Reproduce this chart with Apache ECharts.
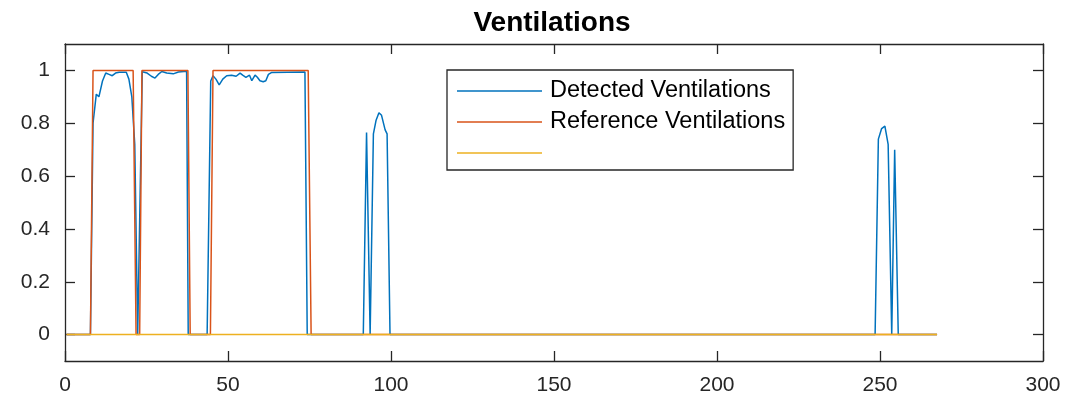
<!DOCTYPE html>
<html>
<head>
<meta charset="utf-8">
<script src="https://cdn.jsdelivr.net/npm/echarts@6/dist/echarts.min.js"></script>
<style>html,body{margin:0;padding:0;background:#fff}#c{width:1079px;height:401px}</style>
</head>
<body>
<div id="c"></div>
<script>
const titleText = 'Ventilations';
const seriesNames = ['Detected Ventilations', 'Reference Ventilations', ' '];
const xTicks = [0, 50, 100, 150, 200, 250, 300];
const yTicks = [0, 0.2, 0.4, 0.6, 0.8, 1];

const detected = [
  [0.5,0],[7.8,0],[8.6,0.80],[9.6,0.91],[10.4,0.90],[11.5,0.96],[12.5,0.99],[13.5,0.985],
  [14.5,0.98],[15.5,0.99],[16.6,0.993],[17.8,0.993],[18.8,0.993],[19.6,0.967],[20.5,0.90],
  [21.4,0.72],[22.3,0],[22.7,0],[23.7,0.995],[25.2,0.99],[26.5,0.978],[27.6,0.971],
  [28.6,0.985],[29.7,0.996],[31.2,0.99],[33.2,0.987],[34.8,0.994],[36.5,0.996],[37.3,0.996],
  [37.8,0],[43.6,0],[44.7,0.96],[45.4,0.98],[46.3,0.967],[47.3,0.945],[48.4,0.967],
  [49.6,0.98],[51.1,0.982],[52.5,0.978],[53.7,0.99],[54.5,0.982],[55.5,0.974],[56.6,0.982],
  [57.3,0.961],[58.3,0.982],[59.0,0.974],[59.8,0.961],[60.8,0.957],[61.6,0.961],[62.4,0.985],
  [63.3,0.992],[73.6,0.994],[74.3,0],[91.5,0],[92.5,0.765],[93.6,0],[94.6,0.76],[95.4,0.81],
  [96.3,0.84],[97.1,0.83],[98.2,0.775],[98.8,0.76],[99.7,0],[248.5,0],[249.5,0.74],
  [250.5,0.78],[251.5,0.789],[252.5,0.72],[253.6,0],[254.5,0.70],[255.6,0],[267.5,0]
];
const reference = [
  [0.5,0],[7.8,0],[8.6,1],[20.9,1],[21.8,0],[22.9,0],[23.6,1],[37.7,1],[38.4,0],
  [44.6,0],[45.4,1],[74.6,1],[75.5,0],[267.5,0]
];
const third = [[0.5,0],[267.5,0]];

const colors = ['#0072BD', '#D95319', '#EDB120'];
const axisColor = '#262626';
const font = 'Liberation Sans, Arial, Helvetica, sans-serif';

const chart = echarts.init(document.getElementById('c'), null, {renderer: 'canvas'});
const baseAxis = {
  axisLine: {show: true, onZero: false, lineStyle: {color: axisColor, width: 1.3}},
  axisTick: {show: true, inside: true, length: 10, lineStyle: {color: axisColor, width: 1.3}},
  splitLine: {show: false}
};
chart.setOption({
  animation: false,
  backgroundColor: '#fff',
  title: {
    text: titleText, left: 547, top: 4, textAlign: 'center',
    textStyle: {fontFamily: font, fontWeight: 'bold', fontSize: 28, color: '#000'}
  },
  legend: {
    orient: 'vertical', left: 447, top: 70,
    data: seriesNames,
    icon: 'rect',
    itemWidth: 85, itemHeight: 1.5, itemGap: 7,
    padding: [9, 8, 5, 10],
    backgroundColor: '#fff', borderColor: axisColor, borderWidth: 1.3,
    textStyle: {fontFamily: font, fontSize: 23.5, color: '#000', lineHeight: 24, padding: [0, 0, 0, 3]},
    selectedMode: false
  },
  grid: {left: 65, right: 36, top: 44, bottom: 40, containLabel: false},
  xAxis: [
    Object.assign({}, baseAxis, {
      type: 'value', min: 0, max: 300, interval: 50, position: 'bottom',
      axisLabel: {fontFamily: font, fontSize: 21, color: axisColor, margin: 14,
        customValues: xTicks},
      axisTick: Object.assign({}, baseAxis.axisTick, {customValues: xTicks})
    }),
    Object.assign({}, baseAxis, {
      type: 'value', min: 0, max: 300, interval: 50, position: 'top',
      axisLabel: {show: false},
      axisTick: Object.assign({}, baseAxis.axisTick, {customValues: xTicks})
    })
  ],
  yAxis: [
    Object.assign({}, baseAxis, {
      type: 'value', min: -0.1, max: 1.1, position: 'left',
      axisLabel: {fontFamily: font, fontSize: 21, color: axisColor, margin: 15,
        customValues: yTicks, formatter: v => String(Math.round(v * 10) / 10)},
      axisTick: Object.assign({}, baseAxis.axisTick, {customValues: yTicks})
    }),
    Object.assign({}, baseAxis, {
      type: 'value', min: -0.1, max: 1.1, position: 'right',
      axisLabel: {show: false},
      axisTick: Object.assign({}, baseAxis.axisTick, {customValues: yTicks})
    })
  ],
  series: [
    {name: seriesNames[0], type: 'line', data: detected, symbol: 'none',
      lineStyle: {color: colors[0], width: 1.5}, itemStyle: {color: colors[0]}},
    {name: seriesNames[1], type: 'line', data: reference, symbol: 'none',
      lineStyle: {color: colors[1], width: 1.5}, itemStyle: {color: colors[1]}},
    {name: seriesNames[2], type: 'line', data: third, symbol: 'none',
      lineStyle: {color: colors[2], width: 1.5}, itemStyle: {color: colors[2]}}
  ]
});
</script>
</body>
</html>
